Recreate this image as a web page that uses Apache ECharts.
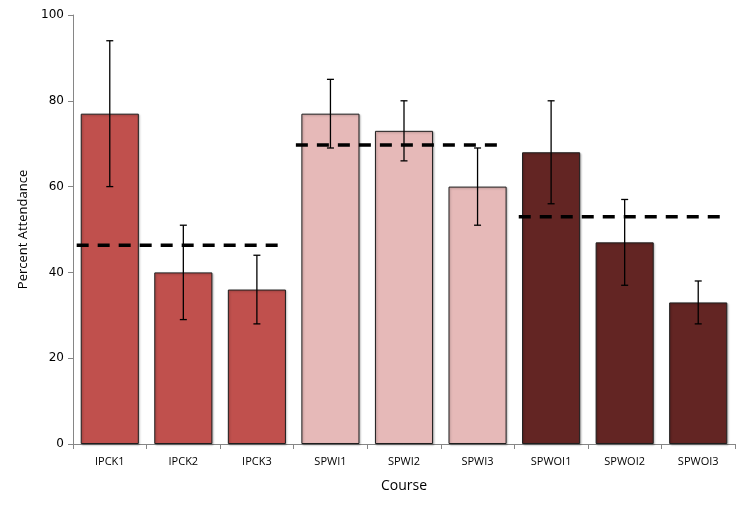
<!DOCTYPE html>
<html>
<head>
<meta charset="utf-8">
<script src="https://cdn.jsdelivr.net/npm/echarts@6/dist/echarts.min.js"></script>
<style>html,body{margin:0;padding:0;background:#fff}#c{width:750px;height:510px}</style>
</head>
<body>
<div id="c"></div>
<script>
var categories = ['IPCK1','IPCK2','IPCK3','SPWI1','SPWI2','SPWI3','SPWOI1','SPWOI2','SPWOI3'];
var attendance = [77, 40, 36, 77, 73, 60, 68, 47, 33];
var errLow  = [60, 29, 28, 69, 66, 51, 56, 37, 28];
var errHigh = [94, 51, 44, 85, 80, 69, 80, 57, 38];
var groupOf = [0,0,0,1,1,1,2,2,2];
var groupColors = ['#C0504D', '#E6B9B8', '#632523'];
var groupMeans = [46.3, 69.7, 53.0];
var groupStart = [0.05, 3.03, 6.06];
var groupEnd = [2.84, 5.81, 8.83];
var yTicks = [0, 20, 40, 60, 80, 100];

var chart = echarts.init(document.getElementById('c'), null, {renderer: 'canvas'});

var barData = attendance.map(function (v, i) {
  return { value: v, itemStyle: { color: groupColors[groupOf[i]] } };
});
var errData = categories.map(function (c, i) { return [i, errLow[i], errHigh[i]]; });

var series = [
  {
    type: 'bar', xAxisIndex: 0, yAxisIndex: 0,
    data: barData,
    barCategoryGap: '21%',
    itemStyle: { borderColor: '#1e1e1e', borderWidth: 1, shadowColor: 'rgba(0,0,0,0.25)', shadowBlur: 2, shadowOffsetX: 1, shadowOffsetY: 1 },
    silent: true, animation: false, z: 2
  },
  {
    type: 'custom', xAxisIndex: 0, yAxisIndex: 0,
    data: errData,
    renderItem: function (params, api) {
      var x = api.value(0);
      var lo = api.coord([x, api.value(1)]);
      var hi = api.coord([x, api.value(2)]);
      var hw = 3.5;
      var st = { stroke: '#000', lineWidth: 1.3 };
      return { type: 'group', children: [
        { type: 'line', shape: { x1: lo[0], y1: lo[1], x2: hi[0], y2: hi[1] }, style: st },
        { type: 'line', shape: { x1: lo[0]-hw, y1: lo[1], x2: lo[0]+hw, y2: lo[1] }, style: st },
        { type: 'line', shape: { x1: hi[0]-hw, y1: hi[1], x2: hi[0]+hw, y2: hi[1] }, style: st }
      ]};
    },
    silent: true, animation: false, z: 4
  }
];
groupMeans.forEach(function (m, g) {
  series.push({
    type: 'line', xAxisIndex: 1, yAxisIndex: 0,
    data: [[groupStart[g], m], [groupEnd[g], m]],
    symbol: 'none',
    lineStyle: { color: '#000', width: 3.5, type: [12, 9], cap: 'butt' },
    silent: true, animation: false, z: 5
  });
});

chart.setOption({
  animation: false,
  grid: { left: 73, right: 15, top: 15, bottom: 66 },
  xAxis: [
    {
      type: 'category', data: categories,
      name: 'Course', nameLocation: 'middle', nameGap: 35,
      nameTextStyle: { fontFamily: 'Open Sans', fontSize: 14, color: '#000' },
      axisLine: { lineStyle: { color: '#868686', width: 1 } },
      axisTick: { show: true, alignWithLabel: false, length: 5, lineStyle: { color: '#868686' } },
      axisLabel: { fontFamily: 'Open Sans', fontSize: 11, color: '#000', margin: 12 },
      splitLine: { show: false }
    },
    {
      type: 'value', min: 0, max: 9, show: false,
      splitLine: { show: false }
    }
  ],
  yAxis: {
    type: 'value', min: 0, max: 100, interval: 20,
    name: 'Percent Attendance', nameLocation: 'middle', nameGap: 38,
    nameTextStyle: { fontFamily: 'Open Sans', fontSize: 13, color: '#000' },
    axisLine: { show: true, lineStyle: { color: '#868686', width: 1 } },
    axisTick: { show: true, length: 5, lineStyle: { color: '#868686' } },
    axisLabel: { fontFamily: 'DejaVu Sans', fontSize: 12, color: '#000', margin: 9,
      formatter: function (v) { return yTicks.indexOf(v) >= 0 ? String(v) : ''; } },
    splitLine: { show: false }
  },
  series: series
});
</script>
</body>
</html>
